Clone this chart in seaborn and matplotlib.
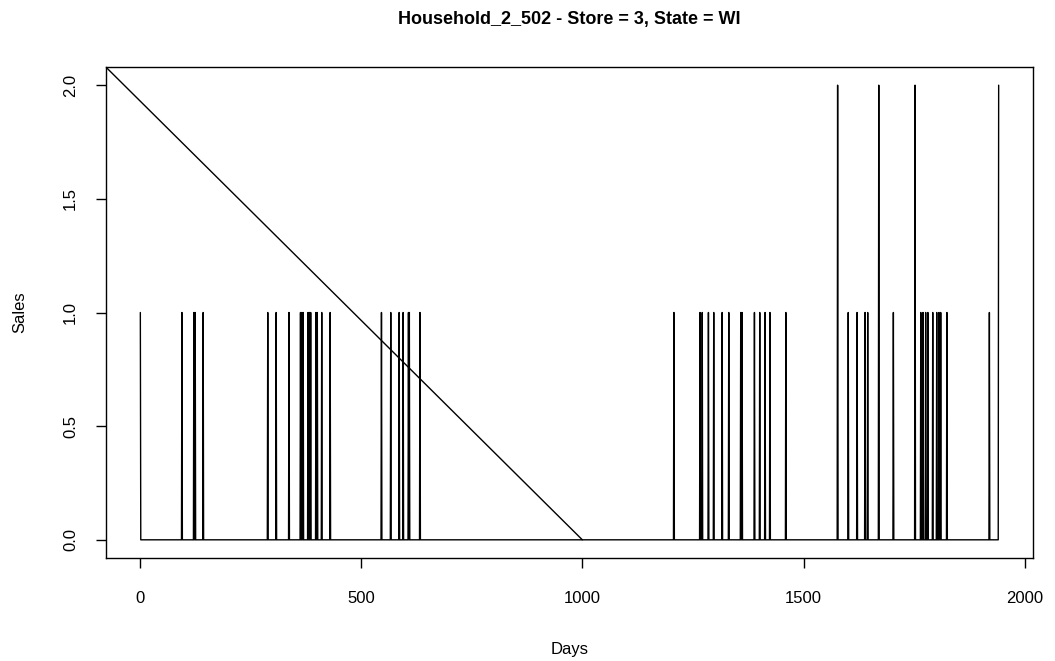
import numpy as np
import pandas as pd
import matplotlib
matplotlib.use("Agg")
import matplotlib.pyplot as plt
import seaborn as sns

# days with non-zero sales (series runs 1..1941, zero elsewhere)
spike_days = [1, 95, 122, 125, 143,
              289, 308, 337, 363, 366, 369, 380, 383, 386, 398, 401, 411, 430,
              546, 567, 586, 595, 607, 609, 633,
              1207, 1266, 1271, 1285, 1297, 1316, 1331, 1358, 1361, 1389, 1401,
              1413, 1424, 1460, 1577, 1601, 1621, 1639, 1645, 1670, 1703,
              1752, 1765, 1770, 1776, 1781, 1792, 1801, 1806, 1810, 1824,
              1920, 1941]
spike_vals = [1, 1, 1, 1, 1,
              1, 1, 1, 1, 1, 1, 1, 1, 1, 1, 1, 1, 1,
              1, 1, 1, 1, 1, 1, 1,
              1, 1, 1, 1, 1, 1, 1, 1, 1, 1, 1,
              1, 1, 1, 2, 1, 1, 1, 1, 2, 1,
              2, 1, 1, 1, 1, 1, 1, 1, 1, 1,
              1, 2]
n_days = 1941

# straight reference line (clipped by the plot box)
diag_x = [-77, 1000]
diag_y = [2.08, 0.0]

days = np.arange(1, n_days + 1)
sales = np.zeros(n_days)
for d, v in zip(spike_days, spike_vals):
    sales[d - 1] = v
df = pd.DataFrame({"Days": days, "Sales": sales})

sns.set_style("white")
plt.rcParams["font.family"] = ["Liberation Sans", "DejaVu Sans"]
plt.rcParams["text.color"] = "black"
plt.rcParams["axes.labelcolor"] = "black"
plt.rcParams["xtick.color"] = "black"
plt.rcParams["ytick.color"] = "black"

fig = plt.figure(figsize=(10.55, 6.61), dpi=100)
ax = fig.add_axes([106 / 1055, 1 - 558 / 661, (1033 - 106) / 1055, (558 - 67) / 661])

sns.lineplot(data=df, x="Days", y="Sales", color="black", linewidth=1, ax=ax)
ax.plot(diag_x, diag_y, color="black", linewidth=1)

ax.set_xlim(-76.6, 2018.6)
ax.set_ylim(-0.08, 2.08)
ax.set_xticks([0, 500, 1000, 1500, 2000])
ax.set_yticks([0.0, 0.5, 1.0, 1.5, 2.0])
ax.set_yticklabels(["0.0", "0.5", "1.0", "1.5", "2.0"], rotation=90, va="center")
ax.tick_params(axis="both", direction="out", length=7, width=1, color="black",
               labelcolor="black", labelsize=12, left=True, bottom=True)
ax.tick_params(axis="x", pad=16.5)
ax.tick_params(axis="y", pad=13)
for s in ax.spines.values():
    s.set_color("black")
    s.set_linewidth(1)

ax.set_xlabel("Days", fontsize=12, labelpad=26)
ax.set_ylabel("Sales", fontsize=12, labelpad=26)
ax.set_title("Household_2_502 - Store = 3, State = WI", fontsize=13,
             fontweight="bold", pad=31)

fig.savefig("out.png", dpi=100)
